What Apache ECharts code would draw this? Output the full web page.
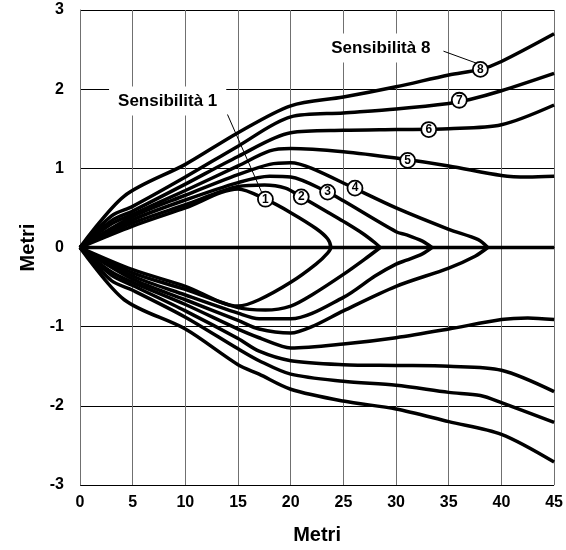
<!DOCTYPE html>
<html>
<head>
<meta charset="utf-8">
<script src="https://cdn.jsdelivr.net/npm/echarts@6/dist/echarts.min.js"></script>
<style>
html,body{margin:0;padding:0;background:#fff;}
#chart{width:566px;height:550px;}
</style>
</head>
<body>
<div id="chart"></div>
<script>
// ---- data (metres) ----
const xTicks = [0, 5, 10, 15, 20, 25, 30, 35, 40, 45];
const yTicks = [-3, -2, -1, 0, 1, 2, 3];

// curve 1 (closed loop, upper branch then lower branch)
const c1UX = [0, 5, 10, 15, 17.6, 20, 22.4, 23.5, 23.8];
const c1UY = [0, 0.27, 0.5, 0.74, 0.61, 0.44, 0.24, 0.11, 0];
const c1LX = [0, 5, 10, 15, 17, 20, 22.4, 23.5, 23.8];
const c1LY = [0, -0.28, -0.49, -0.74, -0.66, -0.44, -0.21, -0.07, 0];

const c2UX = [0, 5, 10, 15, 17.5, 19.5, 21, 23.6, 25, 26.8, 28, 28.5];
const c2UY = [0, 0.31, 0.54, 0.77, 0.79, 0.75, 0.64, 0.44, 0.33, 0.18, 0.06, 0];
const c2LX = [0, 5, 10, 15, 17.6, 20, 22, 25, 27, 28.5];
const c2LY = [0, -0.32, -0.53, -0.76, -0.79, -0.74, -0.6, -0.34, -0.15, 0];

const c3UX = [0, 5, 10, 15, 18, 20, 23.5, 25, 30, 31, 32.5, 33.4];
const c3UY = [0, 0.35, 0.6, 0.82, 0.9, 0.89, 0.7, 0.59, 0.2, 0.16, 0.08, 0];
const c3LX = [0, 5, 10, 15, 17, 20, 25, 28, 30, 31, 32.5, 33.4];
const c3LY = [0, -0.36, -0.6, -0.83, -0.9, -0.9, -0.63, -0.36, -0.21, -0.16, -0.08, 0];

const c4UX = [0, 5, 10, 15, 18, 20, 22, 26, 30, 35, 37.8, 38.7];
const c4UY = [0, 0.39, 0.66, 0.92, 1.05, 1.07, 1.0, 0.75, 0.5, 0.23, 0.1, 0];
const c4LX = [0, 5, 10, 15, 17, 20, 22, 25, 30, 35, 37.5, 38.7];
const c4LY = [0, -0.4, -0.66, -0.92, -1.03, -1.08, -1.0, -0.8, -0.49, -0.26, -0.11, 0];

const c5UX = [0, 3, 5, 10, 15, 18, 20, 25, 30, 35, 40, 42.5, 45];
const c5UY = [0, 0.3, 0.42, 0.72, 1.03, 1.22, 1.25, 1.21, 1.13, 1.03, 0.91, 0.89, 0.9];
const c5LX = [0, 3, 5, 10, 15, 17, 19.2, 20, 25, 30, 35, 40, 42.5, 45];
const c5LY = [0, -0.31, -0.44, -0.72, -1.03, -1.14, -1.25, -1.27, -1.22, -1.14, -1.03, -0.91, -0.89, -0.91];

const c6UX = [0, 3, 5, 10, 15, 20, 25, 30, 35, 40, 45];
const c6UY = [0, 0.34, 0.46, 0.8, 1.15, 1.45, 1.48, 1.49, 1.5, 1.55, 1.8];
const c6LX = [0, 3, 5, 10, 15, 17, 20, 25, 30, 35, 40, 45];
const c6LY = [0, -0.35, -0.48, -0.8, -1.15, -1.31, -1.43, -1.48, -1.49, -1.5, -1.55, -1.82];

const c7UX = [0, 3, 5, 10, 15, 20, 25, 30, 35, 37, 40, 45];
const c7UY = [0, 0.4, 0.52, 0.89, 1.28, 1.65, 1.7, 1.75, 1.82, 1.87, 1.98, 2.2];
const c7LX = [0, 3, 5, 10, 15, 17, 20, 25, 30, 35, 38, 40, 45];
const c7LY = [0, -0.42, -0.54, -0.88, -1.28, -1.43, -1.6, -1.69, -1.74, -1.83, -1.87, -1.96, -2.21];

const c8UX = [0, 4.2, 10, 15, 20, 25, 30, 35, 38, 40, 45];
const c8UY = [0, 0.65, 1.05, 1.45, 1.79, 1.9, 2.03, 2.18, 2.25, 2.35, 2.7];
const c8LX = [0, 4.2, 10, 15, 17, 20, 25, 30, 35, 40, 45];
const c8LY = [0, -0.66, -1.03, -1.48, -1.6, -1.79, -1.94, -2.04, -2.2, -2.36, -2.71];

// axis line (centre line)
const axisLineX = [0, 45];
const axisLineY = [0, 0];

// circled curve numbers
const markerX = [17.6, 21, 23.5, 26.1, 31.1, 33.1, 36, 38];
const markerY = [0.61, 0.64, 0.70, 0.75, 1.10, 1.49, 1.86, 2.25];
const markerText = ['1', '2', '3', '4', '5', '6', '7', '8'];

// annotations
const annoText = ['Sensibilità 1', 'Sensibilità 8'];
const annoX = [8.32, 28.55];
const annoY = [1.85, 2.52];
const leader1X = [14.0, 17.33];
const leader1Y = [1.68, 0.67];
const leader8X = [34.5, 37.6];
const leader8Y = [2.48, 2.33];

// ---- build ----
const zip = (xs, ys) => xs.map((x, i) => [x, ys[i]]);
const FONT = "Liberation Sans, Arial, sans-serif";

const curveStyle = { color: '#000', width: 3.5 };
function curveSeries(data, smooth) {
  return {
    type: 'line', data: data, showSymbol: false, symbol: 'none',
    smooth: smooth, lineStyle: curveStyle, itemStyle: { color: '#000' },
    silent: true, z: 3, animation: false
  };
}

const series = [];
const loop1 = zip(c1UX, c1UY).concat(zip(c1LX, c1LY).reverse().slice(1));
series.push(curveSeries(loop1, 0.3));
[[c2UX, c2UY], [c2LX, c2LY], [c3UX, c3UY], [c3LX, c3LY], [c4UX, c4UY], [c4LX, c4LY],
 [c5UX, c5UY], [c5LX, c5LY], [c6UX, c6UY], [c6LX, c6LY], [c7UX, c7UY], [c7LX, c7LY],
 [c8UX, c8UY], [c8LX, c8LY]].forEach(([xs, ys]) => series.push(curveSeries(zip(xs, ys), 0.3)));
series.push(curveSeries(zip(axisLineX, axisLineY), false));

// leader lines
[[leader1X, leader1Y], [leader8X, leader8Y]].forEach(([xs, ys]) => series.push({
  type: 'line', data: zip(xs, ys), symbol: 'none', showSymbol: false,
  lineStyle: { color: '#000', width: 1 }, silent: true, z: 2, animation: false
}));

// annotation texts
series.push({
  type: 'scatter', symbolSize: 0, silent: true, z: 5, animation: false,
  itemStyle: { opacity: 1 },
  data: annoText.map((t, i) => ({ value: [annoX[i], annoY[i]], name: t })),
  label: {
    show: true, position: 'inside', formatter: p => p.name,
    fontFamily: FONT, fontWeight: 'bold', fontSize: 17, color: '#000',
    textBorderWidth: 0, textBorderColor: 'transparent',
    backgroundColor: '#fff', padding: [6, 9, 6, 9]
  }
});

// circled numbers
series.push({
  type: 'scatter', symbol: 'circle', symbolSize: 15, silent: true, z: 6, animation: false,
  data: markerText.map((t, i) => ({ value: [markerX[i], markerY[i]], name: t })),
  itemStyle: { color: '#fff', borderColor: '#000', borderWidth: 1.8, opacity: 1 },
  label: {
    show: true, position: 'inside', formatter: p => p.name,
    fontFamily: FONT, fontWeight: 'bold', fontSize: 12, color: '#000',
    textBorderWidth: 0, textBorderColor: 'transparent'
  }
});

const chart = echarts.init(document.getElementById('chart'), null, { renderer: 'canvas' });
chart.setOption({
  animation: false,
  backgroundColor: '#fff',
  grid: { left: 80, right: 10, top: 10, bottom: 63 },
  xAxis: {
    type: 'value', min: xTicks[0], max: xTicks[xTicks.length - 1], interval: 5,
    name: 'Metri', nameLocation: 'middle', nameGap: 40,
    nameTextStyle: { fontFamily: FONT, fontWeight: 'bold', fontSize: 20, color: '#000' },
    axisLine: { show: true, lineStyle: { color: '#000', width: 1 } },
    axisTick: { show: false },
    axisLabel: { fontFamily: FONT, fontWeight: 'bold', fontSize: 16, color: '#000', margin: 10 },
    splitLine: { show: true, lineStyle: { color: '#707070', width: 1 } }
  },
  yAxis: {
    type: 'value', min: yTicks[0], max: yTicks[yTicks.length - 1], interval: 1,
    name: 'Metri', nameLocation: 'middle', nameGap: 40, nameRotate: 90,
    nameTextStyle: { fontFamily: FONT, fontWeight: 'bold', fontSize: 20, color: '#000' },
    axisLine: { show: true, onZero: false, lineStyle: { color: '#707070', width: 1 } },
    axisTick: { show: false },
    axisLabel: { fontFamily: FONT, fontWeight: 'bold', fontSize: 16, color: '#000', margin: 16 },
    splitLine: { show: true, lineStyle: { color: '#000', width: 1 } }
  },
  series: series
});
</script>
</body>
</html>
